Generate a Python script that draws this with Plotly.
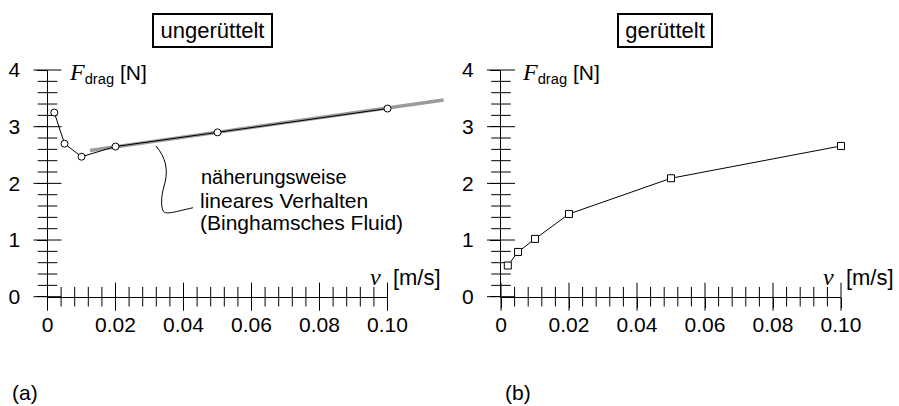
import plotly.graph_objects as go

# ---------------- data ----------------
v_a = [0.002, 0.005, 0.01, 0.02, 0.05, 0.10]
F_a = [3.25, 2.70, 2.47, 2.65, 2.90, 3.32]
v_fit = [0.0125, 0.1165]
F_fit = [2.58, 3.47]
v_b = [0.002, 0.005, 0.01, 0.02, 0.05, 0.10]
F_b = [0.55, 0.79, 1.02, 1.46, 2.09, 2.66]

x_major = [0, 0.02, 0.04, 0.06, 0.08, 0.10]
x_ticktext = ["0", "0.02", "0.04", "0.06", "0.08", "0.10"]
y_major = [0, 1, 2, 3, 4]
y_ticktext = ["0", "1", "2", "3", "4"]
x_minor_step, y_minor_step = 0.004, 0.2

# brace (annotation decoration) in data units of panel (a)
brace_pts = [(0.0319, 2.66), (0.0349, 2.45), (0.0354, 2.24), (0.0346, 2.02),
             (0.0337, 1.85), (0.0331, 1.64), (0.0340, 1.51),
             (0.0349, 1.44), (0.0375, 1.50), (0.0428, 1.57)]

# ---------------- layout geometry ----------------
W, H = 899, 406
PX_PER_V = 3400.0
PX_PER_N = 56.67
X0_A, X0_B, Y0 = 47.5, 501.0, 296.7
V_MAX, V_MAX_WIDE, F_MAX = 0.10, 0.12, 4


def fx(p):
    return p / W


def fy(p):
    return 1 - p / H


dom_y = [fy(Y0), fy(Y0 - F_MAX * PX_PER_N)]
dom_xa_wide = [fx(X0_A), fx(X0_A + V_MAX_WIDE * PX_PER_V)]
dom_xa = [fx(X0_A), fx(X0_A + V_MAX * PX_PER_V)]
dom_xb = [fx(X0_B), fx(X0_B + V_MAX * PX_PER_V)]

FONT = "Liberation Sans"
SERIF = "Liberation Serif"
FS = 21
tickfont = dict(family=FONT, size=FS, color="black")
MAJ, MIN = 10, 7

# minor tick positions (between the major ticks)
x_minor = [round(k * x_minor_step, 4) for k in range(1, 25) if k % 5]
y_minor = [round(k * y_minor_step, 2) for k in range(1, 20) if k % 5]


def main_axis(domain, rng, vals, text, anchor, standoff):
    return dict(domain=domain, range=rng, anchor=anchor, tickmode="array",
                tickvals=vals, ticktext=text, ticks="outside", ticklen=MAJ,
                tickcolor="black", tickwidth=1, showline=True,
                linecolor="black", linewidth=1, tickfont=tickfont,
                ticklabelstandoff=standoff, showgrid=False, zeroline=False,
                fixedrange=True)


fig = go.Figure()

# panel (a): lines on the wide (hidden) axis so the fit line can run past 0.10
fig.add_trace(go.Scatter(x=v_fit, y=F_fit, mode="lines", xaxis="x", yaxis="y",
                         line=dict(color="#9b9b9b", width=3.5),
                         showlegend=False, hoverinfo="skip"))
fig.add_trace(go.Scatter(x=v_a, y=F_a, mode="lines", xaxis="x", yaxis="y",
                         line=dict(color="black", width=1),
                         showlegend=False, hoverinfo="skip"))


def tick_marks(xa, ya):
    """crossing tick marks drawn as line markers on the axes"""
    for vals, size in ((x_major, 2 * MAJ), (x_minor, 2 * MIN)):
        fig.add_trace(go.Scatter(x=vals, y=[0] * len(vals), mode="markers",
                                 xaxis=xa, yaxis=ya, cliponaxis=False,
                                 marker=dict(symbol="line-ns", size=size,
                                             line=dict(color="black", width=1)),
                                 showlegend=False, hoverinfo="skip"))
    for vals, size in ((y_major, 2 * MAJ), (y_minor, 2 * MIN)):
        fig.add_trace(go.Scatter(x=[0] * len(vals), y=vals, mode="markers",
                                 xaxis=xa, yaxis=ya, cliponaxis=False,
                                 marker=dict(symbol="line-ew", size=size,
                                             line=dict(color="black", width=1)),
                                 showlegend=False, hoverinfo="skip"))


tick_marks("x5", "y")
fig.add_trace(go.Scatter(x=v_a, y=F_a, mode="markers", xaxis="x5", yaxis="y",
                         marker=dict(symbol="circle", size=7, color="white",
                                     line=dict(color="black", width=1)),
                         cliponaxis=False, showlegend=False))

tick_marks("x2", "y2")
fig.add_trace(go.Scatter(x=v_b, y=F_b, mode="lines+markers", xaxis="x2", yaxis="y2",
                         line=dict(color="black", width=1),
                         marker=dict(symbol="square", size=7, color="white",
                                     line=dict(color="black", width=1)),
                         cliponaxis=False, showlegend=False))

XR, YR = [0, V_MAX], [0, F_MAX]
layout = dict(
    width=W, height=H, margin=dict(l=0, r=0, t=0, b=0, pad=0, autoexpand=False),
    paper_bgcolor="white", plot_bgcolor="rgba(0,0,0,0)", showlegend=False,
    xaxis=dict(domain=dom_xa_wide, range=[0, V_MAX_WIDE], anchor="y",
               visible=False, fixedrange=True),
    xaxis5=main_axis(dom_xa, XR, x_major, x_ticktext, "y", -1),
    yaxis=main_axis(dom_y, YR, y_major, y_ticktext, "x", 12),
    xaxis2=main_axis(dom_xb, XR, x_major, x_ticktext, "y2", -1),
    yaxis2=main_axis(dom_y, YR, y_major, y_ticktext, "x2", 12),
)
fig.update_layout(**layout)

path = "M {},{}".format(*brace_pts[0])
for i in range(1, len(brace_pts), 3):
    pts = brace_pts[i:i + 3]
    if len(pts) == 3:
        path += " C " + " ".join("{},{}".format(a, b) for a, b in pts)
fig.add_shape(type="path", path=path, xref="x", yref="y",
              line=dict(color="black", width=1))


def ann(text, x, y, xanchor="left", size=FS, **kw):
    fig.add_annotation(text=text, x=fx(x), y=fy(y), xref="paper", yref="paper",
                       xanchor=xanchor, yanchor="middle", showarrow=False,
                       font=dict(family=FONT, size=size, color="black"), **kw)


for cx, label, w in [(212.5, "ungerüttelt", 111), (665, "gerüttelt", 86)]:
    ann(label, cx, 30.3, xanchor="center", size=22, bordercolor="black",
        borderwidth=2, borderpad=3, bgcolor="white", width=w)

ylab = ("<span style=\"font-family:'{}';font-size:24px\"><i>F</i></span>"
        "<sub>drag</sub> [N]").format(SERIF)
vlab = ("<span style=\"font-family:'{}';font-size:24px\"><i>v</i></span>"
        "  [m/s]").format(SERIF)
for x0 in (X0_A, X0_B):
    ann(ylab, x0 + 19, 73)
    ann(vlab, x0 + V_MAX * PX_PER_V + 55, 277, xanchor="right", size=22)

ann("näherungsweise", 199, 177, size=20)
ann("lineares Verhalten", 198, 200, size=21)
ann("(Binghamsches Fluid)", 198, 222, size=21)
ann("(a)", 10, 392)
ann("(b)", 503, 392)

fig.write_html("out.html", config={"displayModeBar": False},
               post_script="document.body.style.margin='0';"
                           "document.body.style.padding='0';")
